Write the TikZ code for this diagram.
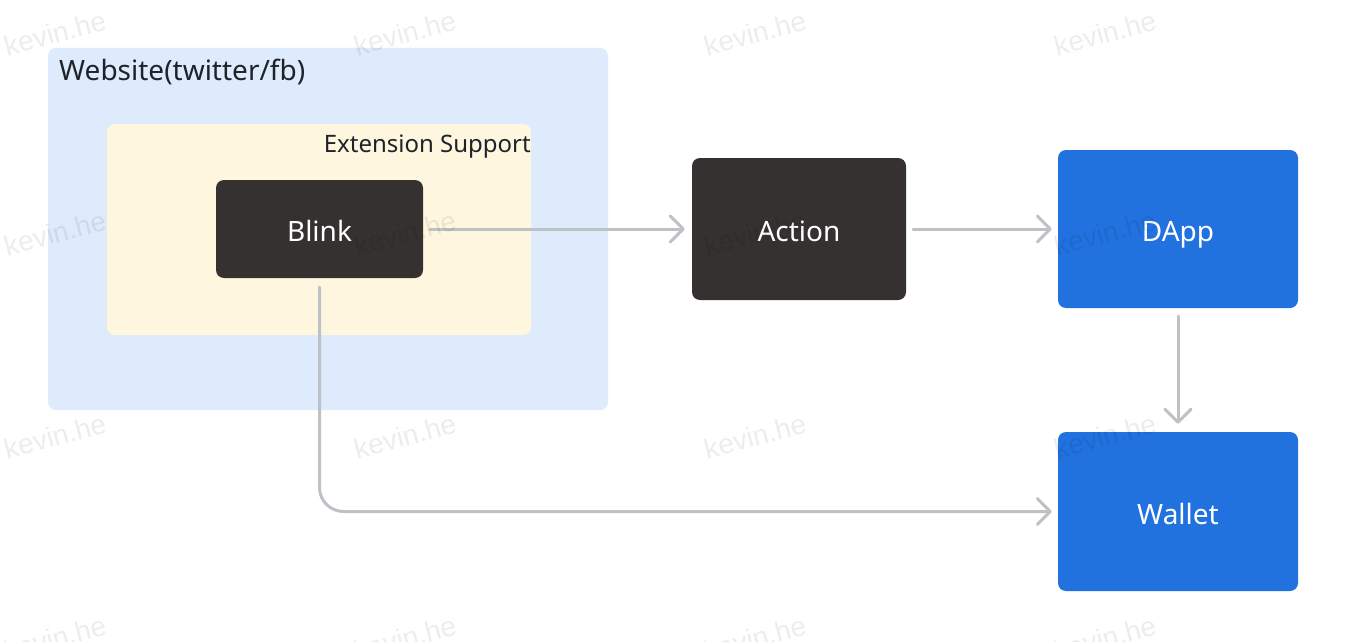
\documentclass[tikz,border=0pt]{standalone}
\usepackage{fontspec}
\setmainfont{Noto Sans}
\newfontfamily\wmfont{Liberation Sans}
\usetikzlibrary{arrows.meta}
\definecolor{webblue}{RGB}{222,235,252}
\definecolor{extcream}{RGB}{255,246,224}
\definecolor{darkbox}{RGB}{52,49,48}
\definecolor{bluebox}{RGB}{33,114,223}
\definecolor{arrowgray}{RGB}{190,193,198}
\definecolor{labeltext}{RGB}{31,35,41}
\tikzset{
  container/.style={rounded corners=8pt, inner sep=0pt, draw=none},
  boxtext/.style={text=white, font=\fontsize{28}{32}\selectfont, inner sep=0pt, text height=25pt, text depth=0pt},
  darknode/.style={rounded corners=8pt, fill=darkbox, boxtext},
  bluenode/.style={rounded corners=8pt, fill=bluebox, boxtext},
  flow/.style={draw=arrowgray, line width=3pt, line cap=round, line join=round, -{Straight Barb[length=13pt,width=26pt,round]}},
  wm/.style={font=\wmfont\fontsize{28}{32}\selectfont, text=black, opacity=0.07, rotate=15}
}
\begin{document}
\begin{tikzpicture}[x=1pt,y=-1pt]
\useasboundingbox (0,0) rectangle (1346,642);
\fill[white] (0,0) rectangle (1346,642);
% containers
\node[container, fill=webblue, minimum width=560pt, minimum height=362pt] (web) at (328,229) {};
\node[anchor=base west, text=labeltext, font=\fontsize{28}{32}\selectfont, inner sep=0pt] (weblabel) at (59,81) {Website(twitter/fb)};
\node[container, fill=extcream, minimum width=424pt, minimum height=211pt] (ext) at (319,229.5) {};
\node[anchor=base east, text=labeltext, font=\fontsize{24}{28}\selectfont, inner sep=0pt] (extlabel) at (531,152) {Extension Support};
% nodes
\node[darknode, minimum width=207pt, minimum height=98pt] (blink) at (319.5,229) {Blink};
\node[darknode, minimum width=214pt, minimum height=142pt] (action) at (799,229) {Action};
\node[bluenode, minimum width=240pt, minimum height=158pt] (dapp) at (1178,229) {DApp};
\node[bluenode, minimum width=240pt, minimum height=159pt] (wallet) at (1178,511.5) {Wallet};
% connectors
\draw[flow, shorten <=7pt, shorten >=7pt] (blink.east) -- (action.west);
\draw[flow, shorten <=7pt, shorten >=6pt] (action.east) -- (dapp.west);
\draw[flow, shorten <=8pt, shorten >=8pt] (dapp.south) -- (wallet.north);
\draw[flow, rounded corners=24pt, shorten >=6pt] ([yshift=-9pt]blink.south) |- (wallet.west);
% watermarks
\foreach \wx in {55,405,755,1105} {
  \foreach \wy in {33,233,436,638} {
    \node[wm] at (\wx,\wy) {kevin.he};
  }
}
\end{tikzpicture}
\end{document}
